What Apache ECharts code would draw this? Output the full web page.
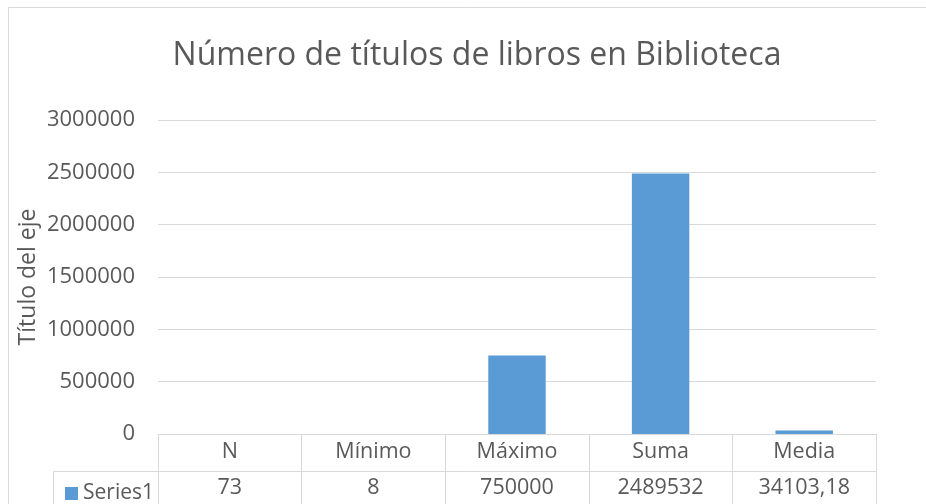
<!DOCTYPE html>
<html>
<head>
<meta charset="utf-8">
<script src="https://cdn.jsdelivr.net/npm/echarts@6/dist/echarts.min.js"></script>
<style>html,body{margin:0;padding:0;background:#fff}#c{width:926px;height:504px}</style>
</head>
<body>
<div id="c"></div>
<script>
const titleText = 'Número de títulos de libros en Biblioteca';
const axisTitle = 'Título del eje';
const seriesName = 'Series1';
const categories = ['N', 'Mínimo', 'Máximo', 'Suma', 'Media'];
const values = [73, 8, 750000, 2489532, 34103.18];
const yTicks = [0, 500000, 1000000, 1500000, 2000000, 2500000, 3000000];

const FONT = 'Open Sans';
const TXT = '#595959';
const LINE = '#d9d9d9';
const fmt = v => String(v).replace('.', ',');

const chart = echarts.init(document.getElementById('c'));
chart.setOption({
  animation: false,
  textStyle: { fontFamily: FONT },
  title: {
    text: titleText, left: 472, top: 35, textAlign: 'center',
    textStyle: { fontFamily: FONT, fontSize: 32, fontWeight: 'normal', color: TXT }
  },
  legend: {
    data: [seriesName], left: 60, top: 478, icon: 'rect', itemWidth: 13, itemHeight: 13,
    textStyle: { fontFamily: FONT, fontSize: 21, color: TXT }
  },
  grid: { left: 158, right: 50, top: 120, bottom: 70 },
  xAxis: [{
    type: 'category', data: categories, position: 'bottom',
    axisLine: { show: true, lineStyle: { color: LINE, width: 1 } },
    axisTick: { show: true, interval: 0, length: 70, lineStyle: { color: LINE, width: 1 } },
    axisLabel: { interval: 0, margin: 18, verticalAlign: 'middle', fontFamily: FONT, fontSize: 21.5, color: TXT }
  }, {
    type: 'category', data: values.map(fmt), position: 'bottom',
    axisLine: { show: false }, axisTick: { show: false },
    axisLabel: { interval: 0, margin: 54, verticalAlign: 'middle', fontFamily: FONT, fontSize: 21.5, color: TXT }
  }],
  yAxis: {
    type: 'value', min: yTicks[0], max: yTicks[yTicks.length - 1], interval: yTicks[1] - yTicks[0],
    name: axisTitle, nameLocation: 'middle', nameRotate: 90, nameGap: 118, nameMoveOverlap: false,
    nameTextStyle: { fontFamily: FONT, fontSize: 23, color: TXT },
    axisLine: { show: false }, axisTick: { show: false },
    axisLabel: { margin: 23, fontFamily: FONT, fontSize: 22, color: TXT, formatter: v => String(v) },
    splitLine: { lineStyle: { color: LINE, width: 1 } }
  },
  series: [{
    name: seriesName, type: 'bar', data: values, barWidth: '40%', xAxisIndex: 0,
    itemStyle: { color: '#5b9bd5' }
  }],
  graphic: [
    { type: 'rect', shape: { x: 8.5, y: 7.5, width: 1000, height: 1000 }, style: { fill: 'none', stroke: LINE, lineWidth: 1 }, silent: true },
    { type: 'line', shape: { x1: 53, y1: 471.5, x2: 876, y2: 471.5 }, style: { stroke: LINE, lineWidth: 1 }, silent: true },
    { type: 'line', shape: { x1: 53.5, y1: 471, x2: 53.5, y2: 504 }, style: { stroke: LINE, lineWidth: 1 }, silent: true }
  ]
});
</script>
</body>
</html>
